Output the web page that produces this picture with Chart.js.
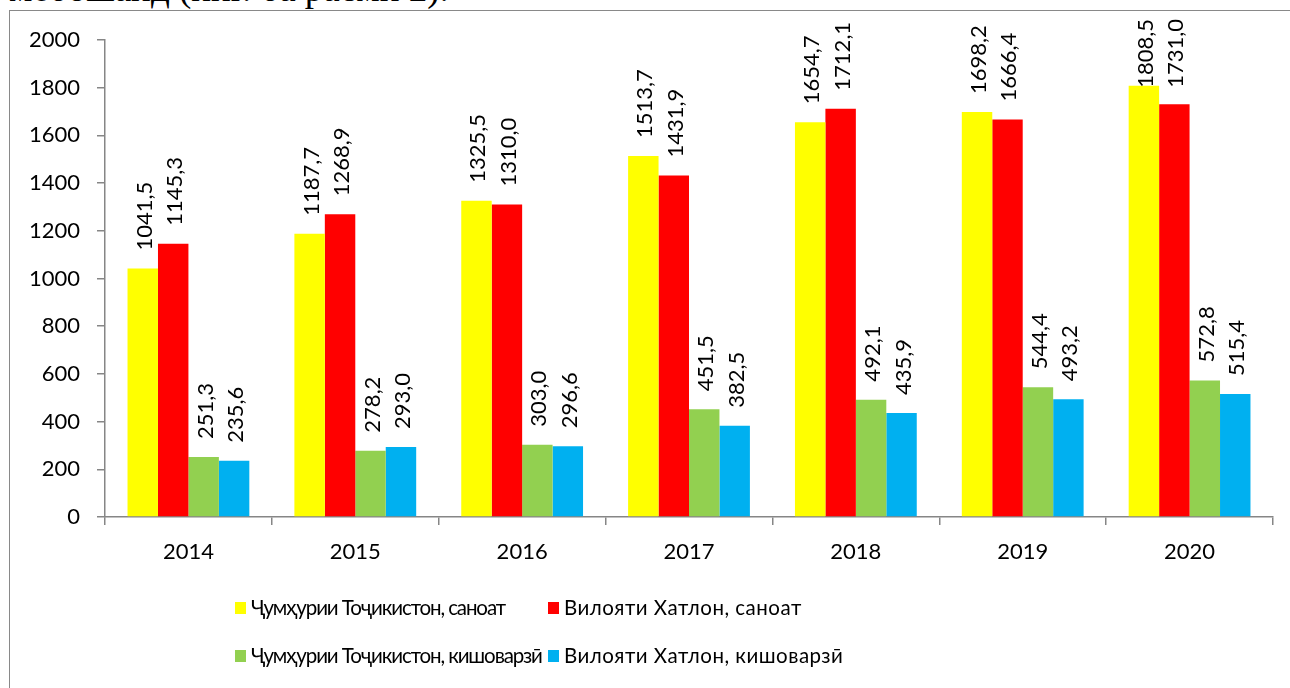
<!DOCTYPE html>
<html>
<head>
<meta charset="utf-8">
<script src="https://cdn.jsdelivr.net/npm/chart.js@4.4.0/dist/chart.umd.min.js"></script>
<style>
  body { margin: 0; background: #fff; }
  #wrap { position: relative; width: 1290px; height: 688px; overflow: hidden; }
  #frame { position: absolute; left: 9px; top: 10px; width: 1400px; height: 800px;
           border-left: 1.5px solid #898989; border-top: 1.5px solid #898989; }
  #intro { position: absolute; left: 9px; top: -30px; font: 37px "Liberation Serif", serif;
           line-height: 1; white-space: nowrap; color: #000; }
  #chart { position: absolute; left: 0; top: 0; }
  .leg { position: absolute; font: 20.5px Lato, "Open Sans", sans-serif; color: #000;
         white-space: nowrap; line-height: 1; }
  .leg i { position: absolute; left: 0; top: 5px; width: 11px; height: 12px; }
  .leg span { position: absolute; left: 16px; top: 0; }
</style>
</head>
<body>
<div id="wrap">
  <div id="frame"></div>
  <div id="intro">мебошанд (ниг. ба расми 2).</div>
  <canvas id="chart" width="1290" height="688"></canvas>
</div>
<script>
// data
const years = ['2014', '2015', '2016', '2017', '2018', '2019', '2020'];
const tjIndustry = [1041.5, 1187.7, 1325.5, 1513.7, 1654.7, 1698.2, 1808.5];
const khIndustry = [1145.3, 1268.9, 1310.0, 1431.9, 1712.1, 1666.4, 1731.0];
const tjAgri = [251.3, 278.2, 303.0, 451.5, 492.1, 544.4, 572.8];
const khAgri = [235.6, 293.0, 296.6, 382.5, 435.9, 493.2, 515.4];
const seriesNames = [
  'Ҷумҳурии Тоҷикистон, саноат',
  'Вилояти Хатлон, саноат',
  'Ҷумҳурии Тоҷикистон, кишоварзӣ',
  'Вилояти Хатлон, кишоварзӣ'
];
const seriesColors = ['#FFFF00', '#FF0000', '#92D050', '#00B0F0'];
const yTicks = [0, 200, 400, 600, 800, 1000, 1200, 1400, 1600, 1800, 2000];

const FONT = 'Lato, "Open Sans", sans-serif';
const axisGray = '#868686';

function fmt(v) {
  return v.toFixed(1).replace('.', ',');
}

// rotated value labels above each bar (pushed down if they'd leave the frame)
const barLabels = {
  id: 'barLabels',
  afterDatasetsDraw(chart) {
    const ctx = chart.ctx;
    ctx.save();
    ctx.font = '22px ' + FONT;
    ctx.fillStyle = '#000';
    ctx.textAlign = 'left';
    ctx.textBaseline = 'alphabetic';
    chart.data.datasets.forEach((ds, i) => {
      chart.getDatasetMeta(i).data.forEach((bar, j) => {
        const txt = fmt(ds.data[j]);
        const w = ctx.measureText(txt).width;
        const start = Math.max(bar.y - 18, 19 + w);
        ctx.save();
        ctx.translate(bar.x, start);
        ctx.rotate(-Math.PI / 2);
        ctx.fillText(txt, 0, 9);
        ctx.restore();
      });
    });
    ctx.restore();
  }
};

const datasets = [tjIndustry, khIndustry, tjAgri, khAgri].map((arr, i) => ({
  label: seriesNames[i],
  data: arr,
  backgroundColor: seriesColors[i],
  borderWidth: 0,
  barPercentage: 1,
  categoryPercentage: 0.73
}));

new Chart(document.getElementById('chart'), {
  type: 'bar',
  data: { labels: years, datasets: datasets },
  plugins: [barLabels],
  options: {
    responsive: false,
    animation: false,
    layout: { padding: { left: 0, right: 17, top: 40, bottom: 111 } },
    plugins: {
      legend: { display: false },
      tooltip: { enabled: false }
    },
    scales: {
      x: {
        afterFit: s => { s.height = 60; },
        grid: { drawOnChartArea: false, drawTicks: true, tickLength: 8, color: axisGray, lineWidth: 1.5 },
        border: { color: axisGray, width: 1.5 },
        ticks: { color: '#000', font: { family: FONT, size: 22 }, padding: 14 }
      },
      y: {
        min: 0,
        max: 2000,
        afterFit: s => { s.width = 105; },
        afterBuildTicks: s => { s.ticks = yTicks.map(v => ({ value: v })); },
        grid: { drawOnChartArea: false, drawTicks: true, tickLength: 8, color: axisGray, lineWidth: 1.5 },
        border: { color: axisGray, width: 1.5 },
        ticks: {
          color: '#000',
          font: { family: FONT, size: 22 },
          padding: 17,
          callback: v => String(v)
        }
      }
    }
  }
});

// legend, two items per row
const legPos = [[235, 597], [548, 597], [235, 645], [548, 645]];
const legSpacing = ['-1.1px', '0.5px', '-1.1px', '0.5px'];
const wrap = document.getElementById('wrap');
seriesNames.forEach((name, i) => {
  const d = document.createElement('div');
  d.className = 'leg';
  d.style.left = legPos[i][0] + 'px';
  d.style.top = legPos[i][1] + 'px';
  d.style.letterSpacing = legSpacing[i];
  d.innerHTML = '<i style="background:' + seriesColors[i] + '"></i><span></span>';
  d.querySelector('span').textContent = name;
  wrap.appendChild(d);
});
</script>
</body>
</html>
